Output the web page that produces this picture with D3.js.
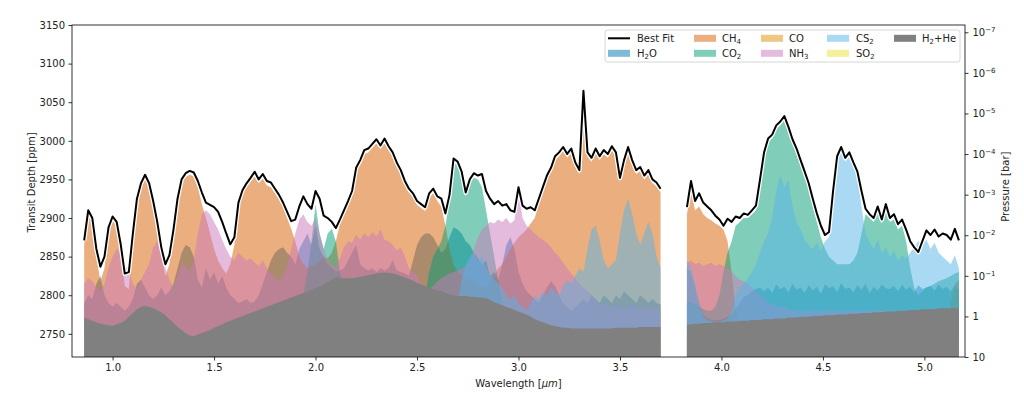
<!DOCTYPE html>
<html><head><meta charset="utf-8">
<script src="https://cdn.jsdelivr.net/npm/d3@7"></script>
<style>body{margin:0;background:#fff}svg{display:block}text{font-family:"DejaVu Sans",sans-serif;fill:#222}</style>
</head><body><svg id="c" width="1024" height="395"></svg>
<script>
const wavelength = [
0.86,0.88,0.90,0.92,0.94,0.96,0.98,1.00,1.02,1.04,
1.06,1.08,1.10,1.12,1.14,1.16,1.18,1.20,1.22,1.24,
1.26,1.28,1.30,1.32,1.34,1.36,1.38,1.40,1.42,1.44,
1.46,1.48,1.50,1.52,1.54,1.56,1.58,1.60,1.62,1.64,
1.66,1.68,1.70,1.72,1.74,1.76,1.78,1.80,1.82,1.84,
1.86,1.88,1.90,1.92,1.94,1.96,1.98,2.00,2.02,2.04,
2.06,2.08,2.10,2.12,2.14,2.16,2.18,2.20,2.22,2.24,
2.26,2.28,2.30,2.32,2.34,2.36,2.38,2.40,2.42,2.44,
2.46,2.48,2.50,2.52,2.54,2.56,2.58,2.60,2.62,2.64,
2.66,2.68,2.70,2.72,2.74,2.76,2.78,2.80,2.82,2.84,
2.86,2.88,2.90,2.92,2.94,2.96,2.98,3.00,3.02,3.04,
3.06,3.08,3.10,3.12,3.14,3.16,3.18,3.20,3.22,3.24,
3.26,3.28,3.30,3.32,3.34,3.36,3.38,3.40,3.42,3.44,
3.46,3.48,3.50,3.52,3.54,3.56,3.58,3.60,3.62,3.64,
3.66,3.68,3.70,
3.83,3.85,3.87,3.89,3.91,3.93,3.95,3.97,3.99,4.01,
4.03,4.05,4.07,4.09,4.11,4.13,4.15,4.17,4.19,4.21,
4.23,4.25,4.27,4.29,4.31,4.33,4.35,4.37,4.39,4.41,
4.43,4.45,4.47,4.49,4.51,4.53,4.55,4.57,4.59,4.61,
4.63,4.65,4.67,4.69,4.71,4.73,4.75,4.77,4.79,4.81,
4.83,4.85,4.87,4.89,4.91,4.93,4.95,4.97,4.99,5.01,
5.03,5.05,5.07,5.09,5.11,5.13,5.15,5.17];

const bestFit = [
2871,2910,2900,2860,2837,2850,2888,2902,2895,2866,
2828,2830,2880,2925,2945,2956,2945,2922,2895,2862,
2840,2852,2885,2925,2950,2958,2961,2959,2948,2933,
2920,2917,2914,2908,2895,2880,2866,2875,2920,2936,
2945,2952,2960,2950,2957,2948,2946,2938,2930,2920,
2908,2896,2898,2915,2928,2918,2912,2935,2925,2903,
2900,2895,2887,2898,2910,2922,2935,2965,2975,2988,
2990,2996,3002,2994,3003,2993,2985,2972,2962,2948,
2938,2932,2922,2918,2914,2932,2938,2928,2925,2906,
2930,2977,2973,2960,2933,2950,2958,2955,2957,2935,
2925,2918,2922,2916,2918,2910,2908,2940,2916,2912,
2914,2910,2925,2940,2955,2965,2980,2985,2992,2983,
2990,2972,2962,3065,2985,2978,2990,2980,2988,2983,
2993,2985,2952,2975,2992,2975,2962,2966,2955,2962,
2950,2946,2938,
2914,2948,2922,2932,2920,2915,2910,2903,2898,2890,
2899,2895,2902,2900,2906,2904,2910,2916,2950,2985,
3003,3008,3020,3025,3032,3018,3002,2990,2975,2960,
2945,2925,2906,2890,2878,2882,2935,2980,2992,2978,
2985,2972,2960,2935,2912,2905,2900,2915,2898,2918,
2900,2905,2892,2898,2885,2870,2862,2856,2870,2884,
2878,2885,2876,2880,2878,2872,2886,2871];

const h2o = [
2790,2800,2795,2815,2825,2800,2790,2785,2790,2785,
2780,2785,2795,2815,2820,2810,2800,2795,2800,2810,
2800,2805,2815,2835,2855,2865,2862,2850,2820,2810,
2835,2820,2830,2815,2825,2810,2800,2795,2790,2792,
2795,2790,2792,2800,2815,2830,2845,2855,2860,2862,
2855,2850,2840,2860,2870,2880,2865,2890,2860,2850,
2840,2835,2830,2832,2835,2845,2855,2865,2840,2835,
2832,2835,2830,2835,2832,2835,2845,2832,2830,2828,
2825,2845,2865,2875,2880,2880,2875,2865,2855,2860,
2875,2888,2885,2880,2870,2865,2855,2848,2840,2845,
2825,2830,2820,2840,2865,2875,2860,2830,2815,2805,
2800,2795,2790,2800,2810,2818,2812,2800,2790,2785,
2780,2785,2790,2795,2790,2800,2795,2790,2800,2795,
2790,2800,2795,2805,2800,2795,2790,2800,2795,2790,
2795,2790,2788,
2835,2830,2810,2790,2775,2770,2768,2768,2768,2770,
2772,2775,2782,2790,2798,2800,2805,2808,2810,2805,
2810,2803,2814,2808,2811,2804,2815,2807,2810,2803,
2813,2806,2811,2802,2814,2809,2812,2804,2816,2808,
2810,2804,2813,2807,2815,2803,2811,2806,2814,2809,
2808,2812,2805,2814,2807,2811,2804,2813,2808,2810,
2812,2806,2814,2808,2811,2805,2813,2807];

const ch4 = [
2865,2905,2895,2850,2818,2835,2880,2897,2890,2858,
2812,2808,2872,2920,2940,2951,2940,2917,2888,2852,
2825,2840,2878,2920,2945,2953,2956,2954,2940,2918,
2900,2880,2860,2845,2835,2828,2840,2865,2915,2931,
2940,2947,2954,2945,2951,2942,2940,2932,2924,2914,
2900,2886,2870,2850,2840,2835,2838,2840,2845,2850,
2848,2855,2870,2892,2905,2917,2930,2960,2970,2983,
2985,2991,2997,2989,2998,2988,2980,2967,2957,2943,
2933,2927,2917,2913,2909,2926,2932,2922,2915,2890,
2860,2840,2830,2825,2822,2820,2818,2815,2812,2810,
2815,2825,2835,2840,2850,2860,2868,2875,2880,2885,
2893,2900,2918,2934,2950,2960,2975,2980,2987,2978,
2985,2967,2957,3058,2980,2973,2985,2975,2983,2978,
2988,2980,2947,2970,2987,2970,2957,2961,2950,2957,
2945,2941,2933,
2905,2935,2910,2915,2905,2900,2897,2893,2890,2885,
2870,2830,2780,2760,2745,2740,2740,2740,2740,2740,
2740,2740,2740,2740,2740,2740,2740,2740,2740,2740,
2740,2740,2740,2740,2740,2740,2740,2740,2740,2740,
2740,2740,2740,2740,2740,2740,2740,2740,2740,2740,
2740,2740,2740,2740,2740,2740,2740,2740,2740,2740,
2740,2740,2740,2745,2760,2790,2815,2820];

const co2 = [
2740,2740,2740,2740,2740,2740,2740,2740,2740,2740,
2740,2740,2740,2740,2740,2740,2740,2740,2740,2740,
2740,2740,2740,2740,2740,2740,2740,2740,2740,2740,
2740,2740,2740,2740,2740,2740,2740,2740,2740,2740,
2740,2740,2740,2740,2740,2740,2740,2740,2740,2740,
2740,2740,2740,2760,2800,2830,2870,2918,2880,2860,
2880,2886,2870,2830,2790,2760,2740,2740,2740,2740,
2740,2740,2740,2740,2740,2740,2740,2740,2740,2740,
2740,2750,2770,2790,2800,2830,2850,2860,2870,2890,
2925,2972,2968,2955,2928,2945,2952,2950,2940,2910,
2880,2850,2820,2790,2770,2755,2745,2740,2740,2740,
2740,2740,2740,2740,2740,2740,2740,2740,2740,2740,
2740,2740,2740,2740,2740,2740,2740,2740,2740,2740,
2740,2740,2740,2740,2740,2740,2740,2740,2740,2740,
2740,2740,2740,
2790,2792,2788,2785,2782,2780,2780,2785,2800,2830,
2855,2870,2890,2895,2900,2900,2905,2910,2945,2980,
2998,3003,3015,3020,3027,3013,2997,2985,2970,2955,
2938,2915,2895,2875,2860,2850,2845,2840,2840,2840,
2840,2845,2855,2880,2905,2900,2895,2908,2893,2910,
2895,2898,2885,2890,2870,2835,2810,2800,2805,2810,
2812,2815,2818,2820,2822,2825,2828,2830];

const co = [
2740,2740,2740,2740,2740,2740,2740,2740,2740,2740,
2740,2740,2740,2740,2740,2740,2740,2740,2740,2740,
2740,2740,2740,2740,2740,2740,2740,2740,2740,2740,
2740,2740,2740,2740,2740,2740,2740,2740,2740,2740,
2740,2740,2740,2740,2740,2740,2740,2740,2740,2740,
2740,2740,2740,2740,2740,2740,2740,2740,2740,2740,
2740,2740,2740,2740,2740,2740,2740,2740,2740,2740,
2740,2740,2740,2740,2740,2740,2740,2740,2740,2740,
2740,2740,2740,2745,2750,2752,2750,2745,2740,2740,
2740,2740,2740,2740,2740,2740,2740,2740,2740,2740,
2740,2740,2740,2740,2740,2740,2740,2740,2740,2740,
2740,2740,2740,2740,2740,2740,2740,2740,2740,2740,
2740,2740,2740,2740,2740,2740,2740,2740,2740,2740,
2740,2740,2740,2740,2740,2740,2740,2740,2740,2740,
2740,2740,2740,
2740,2740,2740,2740,2740,2740,2740,2740,2740,2740,
2740,2740,2740,2740,2740,2740,2740,2740,2740,2740,
2740,2740,2740,2740,2740,2740,2740,2740,2740,2740,
2740,2740,2740,2740,2740,2740,2740,2740,2740,2740,
2740,2740,2740,2740,2740,2740,2740,2740,2740,2740,
2740,2740,2740,2740,2740,2740,2740,2740,2740,2740,
2740,2740,2740,2740,2740,2740,2740,2740];

const nh3 = [
2815,2822,2818,2810,2805,2815,2835,2850,2860,2855,
2840,2830,2815,2808,2820,2830,2840,2862,2870,2855,
2835,2820,2810,2825,2840,2838,2830,2845,2880,2905,
2910,2905,2895,2885,2872,2860,2850,2845,2855,2850,
2845,2848,2842,2838,2845,2835,2828,2822,2818,2825,
2838,2860,2880,2898,2905,2895,2890,2900,2880,2860,
2845,2840,2838,2848,2862,2870,2868,2878,2872,2880,
2875,2882,2876,2885,2872,2870,2865,2858,2862,2850,
2835,2830,2825,2815,2810,2808,2812,2818,2822,2825,
2828,2830,2832,2835,2838,2845,2860,2875,2885,2890,
2895,2893,2898,2895,2900,2893,2897,2935,2900,2890,
2885,2880,2875,2872,2868,2862,2855,2850,2842,2835,
2828,2822,2815,2810,2805,2800,2795,2790,2788,2785,
2785,2788,2785,2782,2785,2788,2785,2782,2785,2785,
2785,2782,2780,
2842,2845,2840,2842,2838,2840,2842,2838,2840,2838,
2835,2830,2825,2820,2818,2815,2810,2805,2800,2795,
2790,2788,2785,2785,2785,2782,2780,2780,2780,2780,
2780,2780,2780,2780,2780,2780,2780,2780,2780,2780,
2780,2780,2780,2780,2780,2780,2780,2780,2780,2780,
2780,2780,2780,2780,2780,2780,2780,2780,2780,2780,
2780,2780,2780,2780,2780,2780,2780,2780];

const cs2 = [
2740,2740,2740,2740,2740,2740,2740,2740,2740,2740,
2740,2740,2740,2740,2740,2740,2740,2740,2740,2740,
2740,2740,2740,2740,2740,2740,2740,2740,2740,2740,
2740,2740,2740,2740,2740,2740,2740,2740,2740,2740,
2740,2740,2740,2740,2740,2740,2740,2740,2740,2740,
2740,2740,2740,2740,2740,2740,2740,2740,2740,2740,
2740,2740,2740,2740,2740,2740,2740,2740,2740,2740,
2740,2740,2740,2740,2740,2740,2740,2740,2740,2740,
2740,2740,2740,2740,2740,2740,2740,2740,2740,2740,
2740,2760,2790,2820,2840,2850,2855,2845,2850,2835,
2825,2820,2815,2810,2800,2795,2800,2790,2785,2780,
2790,2800,2795,2805,2800,2810,2805,2800,2812,2820,
2815,2825,2835,2830,2860,2885,2890,2870,2845,2835,
2840,2845,2880,2910,2925,2905,2880,2865,2880,2895,
2880,2850,2835,
2845,2835,2815,2790,2772,2768,2765,2765,2765,2767,
2770,2780,2800,2810,2815,2822,2830,2840,2855,2870,
2880,2900,2935,2955,2940,2950,2915,2895,2885,2872,
2865,2860,2868,2858,2870,2875,2930,2975,2987,2973,
2980,2967,2955,2915,2880,2868,2860,2872,2855,2862,
2850,2858,2845,2852,2848,2855,2862,2870,2865,2872,
2860,2868,2855,2850,2845,2840,2852,2835];

const so2 = [
2745,2745,2745,2745,2745,2745,2745,2745,2745,2745,
2745,2745,2745,2745,2745,2745,2745,2745,2745,2745,
2745,2745,2745,2745,2745,2745,2745,2745,2745,2745,
2745,2745,2745,2745,2745,2745,2745,2745,2745,2745,
2745,2745,2745,2745,2745,2745,2745,2745,2745,2745,
2745,2745,2745,2745,2745,2745,2745,2745,2745,2745,
2745,2745,2745,2745,2745,2745,2745,2745,2745,2745,
2745,2745,2745,2745,2745,2745,2745,2745,2745,2745,
2745,2745,2745,2745,2745,2745,2745,2745,2745,2745,
2745,2745,2745,2745,2745,2745,2745,2745,2745,2745,
2745,2745,2745,2745,2745,2745,2745,2745,2745,2745,
2745,2745,2745,2745,2745,2745,2745,2745,2745,2745,
2745,2745,2745,2745,2745,2745,2745,2745,2745,2745,
2745,2745,2745,2745,2745,2745,2745,2745,2745,2745,
2745,2745,2745,
2745,2745,2745,2745,2745,2745,2745,2745,2745,2745,
2745,2745,2745,2745,2745,2745,2745,2745,2745,2745,
2745,2745,2745,2745,2745,2745,2745,2745,2745,2745,
2745,2745,2745,2745,2745,2745,2745,2745,2745,2745,
2745,2745,2745,2745,2745,2745,2745,2745,2745,2745,
2745,2745,2745,2745,2745,2745,2745,2745,2745,2745,
2745,2745,2745,2745,2745,2745,2745,2745];

const h2he = [
2771,2769,2767,2765,2763,2762,2761,2760,2762,2764,
2767,2772,2777,2782,2785,2786,2785,2783,2781,2778,
2774,2769,2764,2759,2755,2751,2748,2747,2749,2751,
2753,2755,2758,2760,2762,2765,2767,2769,2771,2773,
2775,2777,2779,2781,2783,2785,2787,2789,2791,2793,
2795,2797,2799,2801,2803,2805,2807,2809,2811,2814,
2817,2820,2823,2823,2822,2822,2822,2823,2824,2825,
2826,2827,2828,2829,2829,2829,2828,2827,2825,2823,
2821,2819,2816,2814,2812,2810,2808,2806,2805,2803,
2801,2800,2799,2799,2799,2798,2798,2797,2797,2796,
2794,2791,2789,2787,2785,2783,2781,2779,2777,2775,
2772,2769,2767,2765,2763,2761,2760,2759,2758,2758,
2757,2757,2757,2757,2757,2757,2757,2757,2757,2757,
2757,2758,2758,2758,2758,2758,2758,2759,2759,2759,
2759,2759,2759,
2762,2762,2763,2763,2764,2764,2764,2765,2765,2765,
2766,2766,2766,2767,2767,2767,2768,2768,2768,2769,
2769,2769,2770,2770,2770,2771,2771,2771,2772,2772,
2772,2773,2773,2773,2774,2774,2774,2775,2775,2775,
2776,2776,2776,2777,2777,2777,2778,2778,2778,2779,
2779,2779,2780,2780,2780,2781,2781,2781,2782,2782,
2782,2782,2783,2783,2783,2783,2783,2783];

const xTicks = [1.0, 1.5, 2.0, 2.5, 3.0, 3.5, 4.0, 4.5, 5.0];
const yTicks = [2750, 2800, 2850, 2900, 2950, 3000, 3050, 3100, 3150];
const pressureTicks = [1e-7, 1e-6, 1e-5, 1e-4, 1e-3, 1e-2, 1e-1, 1, 10];
const pressureLabels = [["10","−7"],["10","−6"],["10","−5"],["10","−4"],["10","−3"],["10","−2"],["10","−1"],["1",""],["10",""]];

const speciesNames = ["H2O","CH4","CO2","CO","NH3","CS2","SO2"];
const speciesColors = ["#0173b2","#d55e00","#029e73","#de8f05","#cc78bc","#56b4e9","#ece133"];
const speciesData = [h2o, ch4, co2, co, nh3, cs2, so2];

const L = 72, R = 965, T = 25, B = 357;
const svg = d3.select("#c");
const x = d3.scaleLinear().domain([0.8, 5.2]).range([L, R]);
const y = d3.scaleLinear().domain([2720, 3150]).range([B, T]);
const p = d3.scaleLog().domain([10, Math.pow(10, -7.18)]).range([B, T]);

[bestFit,h2o,ch4,co2,co,nh3,cs2,so2,h2he].forEach((a,k)=>{ if(a.length!==wavelength.length) console.error("len mismatch", k, a.length, wavelength.length); });

const segments = [];
let cur = [0];
for (let i = 1; i < wavelength.length; i++) {
  if (wavelength[i] - wavelength[i-1] > 0.05) { segments.push(cur); cur = []; }
  cur.push(i);
}
segments.push(cur);

svg.append("defs").append("clipPath").attr("id","clip")
  .append("rect").attr("x",L).attr("y",T).attr("width",R-L).attr("height",B-T);
const plot = svg.append("g").attr("clip-path","url(#clip)");

function area(vals){
  return d3.area().x(i=>x(wavelength[i])).y0(y(2720)).y1(i=>y(vals[i]));
}
speciesData.forEach((vals,k)=>{
  segments.forEach(seg=>{
    plot.append("path").attr("d", area(vals)(seg))
      .attr("fill", speciesColors[k]).attr("fill-opacity",0.5).attr("stroke","none");
  });
});
segments.forEach(seg=>{
  plot.append("path").attr("d", area(h2he)(seg)).attr("fill","#808080").attr("stroke","none");
});
const line = d3.line().x(i=>x(wavelength[i])).y(i=>y(bestFit[i]));
segments.forEach(seg=>{
  plot.append("path").attr("d", line(seg)).attr("fill","none").attr("stroke","#fff")
    .attr("stroke-width",4.5).attr("stroke-linejoin","round");
  plot.append("path").attr("d", line(seg)).attr("fill","none").attr("stroke","#000")
    .attr("stroke-width",2).attr("stroke-linejoin","round");
});

svg.append("rect").attr("x",L).attr("y",T).attr("width",R-L).attr("height",B-T)
  .attr("fill","none").attr("stroke","#000").attr("stroke-width",0.8);

const xAxis = d3.axisBottom(x).tickValues(xTicks).tickFormat(d3.format(".1f")).tickSize(3.5).tickPadding(3.5);
const gx = svg.append("g").attr("transform",`translate(0,${B})`).call(xAxis);
const yAxis = d3.axisLeft(y).tickValues(yTicks).tickFormat(d3.format("d")).tickSize(3.5).tickPadding(3.5);
const gy = svg.append("g").attr("transform",`translate(${L},0)`).call(yAxis);
const pAxis = d3.axisRight(p).tickValues(pressureTicks).tickFormat("").tickSize(3.5).tickPadding(3.5);
const gp = svg.append("g").attr("transform",`translate(${R},0)`).call(pAxis);
[gx,gy,gp].forEach(g=>{
  g.select(".domain").remove();
  g.selectAll(".tick line").attr("stroke","#000").attr("stroke-width",0.8);
  g.selectAll(".tick text").attr("font-size",10).attr("font-family","DejaVu Sans").attr("fill","#222");
});
gp.selectAll(".tick").each(function(d,i){
  const t = d3.select(this).select("text").attr("x",7.5).attr("dy","0.32em");
  t.text(null);
  t.append("tspan").text(pressureLabels[i][0]);
  if (pressureLabels[i][1]) t.append("tspan").attr("font-size",7).attr("dy","-0.55em").text(pressureLabels[i][1]);
});

const xl = svg.append("text").attr("x",(L+R)/2).attr("y",386.5).attr("text-anchor","middle").attr("font-size",10);
xl.append("tspan").text("Wavelength [");
xl.append("tspan").attr("font-style","italic").text("μm");
xl.append("tspan").text("]");
svg.append("text").attr("transform","translate(35,182.5) rotate(-90)").attr("text-anchor","middle")
  .attr("font-size",10).text("Transit Depth [ppm]");
svg.append("text").attr("transform","translate(1008.5,186.7) rotate(-90)").attr("text-anchor","middle")
  .attr("font-size",10).text("Pressure [bar]");

const leg = svg.append("g");
leg.append("rect").attr("x",605).attr("y",30).attr("width",355).attr("height",32).attr("rx",2.5)
  .attr("fill","#fff").attr("fill-opacity",0.8).attr("stroke","#ccc").attr("stroke-width",0.8);
const legendItems = [
  {parts:[["Best Fit",""]], type:"line"},
  {parts:[["H","" ],["2","s"],["O",""]], k:0},
  {parts:[["CH",""],["4","s"]], k:1},
  {parts:[["CO",""],["2","s"]], k:2},
  {parts:[["CO",""]], k:3},
  {parts:[["NH",""],["3","s"]], k:4},
  {parts:[["CS",""],["2","s"]], k:5},
  {parts:[["SO",""],["2","s"]], k:6},
  {parts:[["H",""],["2","s"],["+He",""]], type:"gray"}
];
const colHandle = [608, 694, 761, 827, 894];
const colText = [637, 722, 789, 856, 922];
const rowY = [38.3, 53.3];
legendItems.forEach((it,i)=>{
  const c = Math.floor(i/2), r = i%2;
  const hx = colHandle[c], cy = rowY[r];
  if (it.type==="line") {
    leg.append("line").attr("x1",hx).attr("x2",hx+22).attr("y1",cy).attr("y2",cy).attr("stroke","#000").attr("stroke-width",2);
  } else if (it.type==="gray") {
    leg.append("rect").attr("x",hx).attr("y",cy-3.5).attr("width",22).attr("height",7).attr("fill","#808080");
  } else {
    leg.append("rect").attr("x",hx).attr("y",cy-3.5).attr("width",22).attr("height",7)
      .attr("fill",speciesColors[it.k]).attr("fill-opacity",0.5);
  }
  const t = leg.append("text").attr("x",colText[c]).attr("y",cy+3.6).attr("font-size",10);
  let shifted = false;
  it.parts.forEach(([s,m])=>{
    const ts = t.append("tspan").text(s);
    if (m==="s") { ts.attr("font-size",7).attr("dy",2.5); shifted = true; }
    else if (shifted) { ts.attr("dy",-2.5); shifted = false; }
  });
});
</script></body></html>
